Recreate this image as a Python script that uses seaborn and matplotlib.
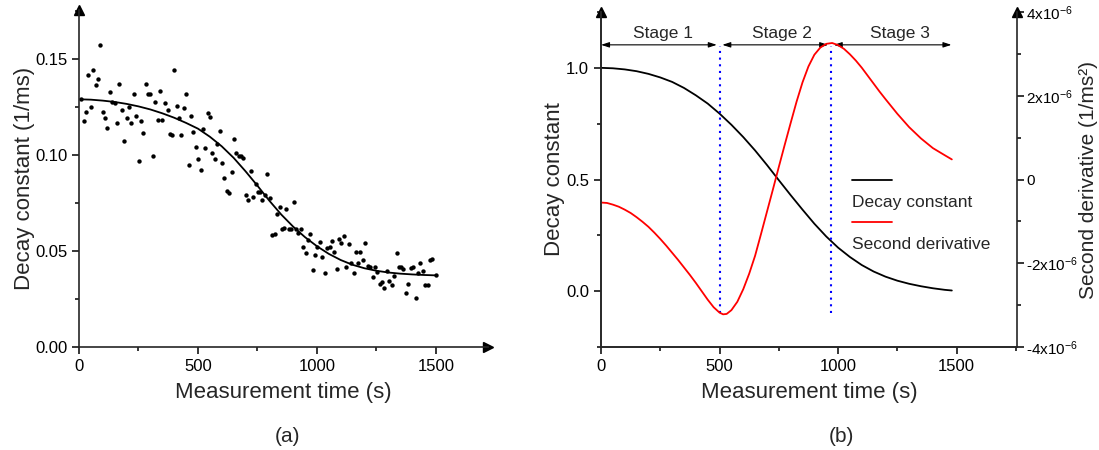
import numpy as np
import matplotlib
matplotlib.use("Agg")
import matplotlib.pyplot as plt
from matplotlib.ticker import MultipleLocator, FormatStrFormatter
from matplotlib.lines import Line2D
import seaborn as sns

# (a) measured decay constant, 1/ms
meas_time = [8, 20, 29, 39, 50, 60, 70, 80, 90, 100,
             111, 119, 130, 140, 150, 160, 170, 181, 191, 200,
             210, 220, 231, 241, 251, 261, 271, 280, 290, 300,
             310, 321, 331, 341, 350, 360, 372, 381, 391, 401,
             411, 421, 430, 442, 451, 461, 471, 481, 491, 502,
             512, 522, 531, 541, 551, 561, 572, 582, 592, 601,
             611, 621, 631, 641, 651, 660, 672, 681, 691, 701,
             711, 722, 732, 742, 751, 761, 771, 781, 792, 802,
             812, 822, 831, 843, 852, 862, 872, 882, 892, 903,
             913, 922, 932, 942, 953, 963, 973, 983, 993, 1002,
             1014, 1023, 1033, 1043, 1053, 1063, 1072, 1083, 1094, 1103,
             1113, 1123, 1133, 1144, 1154, 1164, 1173, 1183, 1193, 1204,
             1214, 1224, 1234, 1243, 1253, 1265, 1274, 1284, 1294, 1304,
             1314, 1323, 1335, 1344, 1354, 1364, 1374, 1384, 1395, 1405,
             1415, 1424, 1434, 1445, 1455, 1465, 1475, 1485, 1499]
meas_decay = [0.129, 0.1175, 0.1224, 0.1417, 0.125, 0.144, 0.1365, 0.1398, 0.1575, 0.1225,
              0.1194, 0.1142, 0.1328, 0.1278, 0.1269, 0.1168, 0.1368, 0.1234, 0.1074, 0.119,
              0.1248, 0.1166, 0.1316, 0.1205, 0.0966, 0.1178, 0.1116, 0.1371, 0.1318, 0.1316,
              0.0996, 0.1274, 0.118, 0.1333, 0.118, 0.1269, 0.1234, 0.1109, 0.1106, 0.1443,
              0.1255, 0.119, 0.1104, 0.1243, 0.1319, 0.0946, 0.1203, 0.1121, 0.1039, 0.0977,
              0.0923, 0.1133, 0.1036, 0.122, 0.12, 0.1008, 0.0979, 0.1055, 0.1123, 0.0956,
              0.0881, 0.081, 0.0803, 0.0913, 0.1085, 0.1012, 0.0996, 0.0993, 0.0986, 0.0791,
              0.0765, 0.0918, 0.078, 0.0848, 0.0805, 0.0805, 0.0768, 0.0794, 0.0899, 0.0777,
              0.0581, 0.0591, 0.069, 0.0727, 0.0615, 0.062, 0.0718, 0.0615, 0.0615, 0.0754,
              0.0612, 0.0596, 0.0615, 0.0521, 0.0487, 0.0558, 0.0589, 0.04, 0.048, 0.0521,
              0.0549, 0.0468, 0.0384, 0.0518, 0.0523, 0.0551, 0.0494, 0.0407, 0.056, 0.0539,
              0.0579, 0.0417, 0.0537, 0.0435, 0.0386, 0.0495, 0.0435, 0.0495, 0.0452, 0.0542,
              0.0422, 0.0414, 0.0367, 0.0417, 0.0389, 0.0329, 0.0339, 0.0309, 0.0396, 0.0342,
              0.0325, 0.037, 0.0492, 0.0417, 0.0417, 0.0407, 0.0283, 0.033, 0.0412, 0.0417,
              0.0257, 0.0386, 0.0435, 0.0395, 0.0322, 0.0322, 0.0455, 0.0459, 0.0377]

# (a) fitted curve
fit_time = [0, 50, 100, 150, 200, 250, 300, 350, 400, 450, 500, 550, 600, 650, 700, 750,
            800, 850, 900, 950, 1000, 1050, 1100, 1150, 1200, 1250, 1300, 1350, 1400, 1450, 1500]
fit_decay = [0.129, 0.1288, 0.1283, 0.1276, 0.1266, 0.1253, 0.1237, 0.1217, 0.1194, 0.1167,
             0.1137, 0.1095, 0.1045, 0.0985, 0.0915, 0.084, 0.0762, 0.069, 0.0627, 0.0572,
             0.0525, 0.0485, 0.0453, 0.0428, 0.041, 0.0397, 0.0388, 0.0382, 0.0378, 0.0375, 0.0373]

# (b) normalised decay constant
curve_time = [0, 50, 100, 150, 200, 250, 300, 350, 400, 450, 500, 550, 600, 650, 700, 750,
              800, 850, 900, 950, 1000, 1050, 1100, 1150, 1200, 1250, 1300, 1350, 1400, 1450, 1480]
norm_decay = [1.0, 0.998, 0.993, 0.985, 0.973, 0.957, 0.937, 0.91, 0.877, 0.84,
              0.795, 0.745, 0.69, 0.63, 0.565, 0.497, 0.43, 0.365, 0.302, 0.245,
              0.195, 0.153, 0.117, 0.088, 0.065, 0.047, 0.033, 0.022, 0.013, 0.006, 0.003]

# (b) second derivative, in units of 1e-6 1/ms^2
deriv_time = [0, 25, 50, 75, 100, 125, 150, 175, 200, 225, 250, 275, 300, 325, 350, 375,
              400, 425, 450, 475, 500, 515, 530, 550, 575, 600, 625, 650, 675, 700, 725,
              750, 775, 800, 825, 850, 875, 900, 925, 950, 975, 1000, 1025, 1050, 1075,
              1100, 1125, 1150, 1175, 1200, 1250, 1300, 1350, 1400, 1450, 1480]
deriv_e6 = [-0.55, -0.56, -0.6, -0.65, -0.72, -0.8, -0.9, -1.01, -1.13, -1.27, -1.42, -1.58,
            -1.75, -1.92, -2.1, -2.28, -2.47, -2.67, -2.87, -3.05, -3.18, -3.22, -3.21,
            -3.12, -2.92, -2.62, -2.25, -1.82, -1.3, -0.77, -0.24, 0.3, 0.83, 1.35, 1.86,
            2.32, 2.7, 2.98, 3.15, 3.24, 3.26, 3.21, 3.12, 2.99, 2.84, 2.67, 2.48, 2.29,
            2.1, 1.92, 1.57, 1.25, 0.98, 0.75, 0.58, 0.48]
deriv_value = np.array(deriv_e6) * 1e-6

stage_names = ["Stage 1", "Stage 2", "Stage 3"]
stage_edges = [0, 500, 970, 1490]
stage_label_x = [262, 765, 1263]
boundary_time = [503, 970]

right_ticks = [-4e-6, -2e-6, 0, 2e-6, 4e-6]
right_labels = ["-4x10$^{-6}$", "-2x10$^{-6}$", "0", "2x10$^{-6}$", "4x10$^{-6}$"]

sns.set_theme(style="ticks")
plt.rcParams["font.family"] = ["Liberation Sans", "DejaVu Sans"]
plt.rcParams["mathtext.fontset"] = "custom"
plt.rcParams["mathtext.rm"] = "Liberation Sans"
plt.rcParams["mathtext.it"] = "Liberation Sans:italic"
plt.rcParams["axes.linewidth"] = 1.2

fig = plt.figure(figsize=(10.99, 4.5), dpi=100)
ax1 = fig.add_axes([0.0719, 0.2289, 0.3723, 0.7489])
ax2 = fig.add_axes([0.5469, 0.2289, 0.3785, 0.7444])
ax3 = ax2.twinx()


def style_ticks(ax, size=12, pad=3.5):
    ax.tick_params(which="major", direction="out", length=5, width=1.1, labelsize=size,
                   pad=pad, color="black", labelcolor="black")
    ax.tick_params(which="minor", direction="out", length=3, width=1.1, color="black")


# ---- panel (a)
sns.scatterplot(x=meas_time, y=meas_decay, ax=ax1, color="black", s=10, linewidth=0)
sns.lineplot(x=fit_time, y=fit_decay, ax=ax1, color="black", lw=1.3)
ax1.set_xlim(0, 1720)
ax1.set_ylim(0, 0.1755)
ax1.set_xticks([0, 500, 1000, 1500])
ax1.set_yticks([0, 0.05, 0.10, 0.15])
ax1.xaxis.set_minor_locator(MultipleLocator(250))
ax1.yaxis.set_minor_locator(MultipleLocator(0.025))
ax1.yaxis.set_major_formatter(FormatStrFormatter("%.2f"))
style_ticks(ax1)
sns.despine(ax=ax1)
ax1.set_xlabel("Measurement time (s)", fontsize=16, labelpad=6)
ax1.set_ylabel("Decay constant (1/ms)", fontsize=16, labelpad=0)
ax1.plot(1, 0, ">", color="black", ms=7, transform=ax1.transAxes, clip_on=False)
ax1.plot(0, 1, "^", color="black", ms=7, transform=ax1.transAxes, clip_on=False)

# ---- panel (b)
sns.lineplot(x=curve_time, y=norm_decay, ax=ax2, color="black", lw=1.3)
sns.lineplot(x=deriv_time, y=deriv_value, ax=ax3, color="red", lw=1.3)
ax2.vlines(boundary_time, -0.1, 1.1, colors="blue", linestyles=(0, (1, 2.2)), lw=1.5)

for name, lx, x0, x1 in zip(stage_names, stage_label_x, stage_edges[:-1], stage_edges[1:]):
    ax2.annotate("", xy=(x1, 1.103), xytext=(x0, 1.103),
                 arrowprops=dict(arrowstyle="<|-|>,head_length=0.4,head_width=0.13",
                                 color="black", lw=0.8,
                                 shrinkA=0 if x0 == 0 else 2, shrinkB=2))
    ax2.text(lx, 1.152, name, ha="center", va="center", fontsize=12.5)

ax2.set_xlim(0, 1755)
ax2.set_ylim(-0.25, 1.25)
ax3.set_ylim(-4e-6, 4e-6)
ax2.set_xticks([0, 500, 1000, 1500])
ax2.set_yticks([0.0, 0.5, 1.0])
ax2.yaxis.set_major_formatter(FormatStrFormatter("%.1f"))
ax2.xaxis.set_minor_locator(MultipleLocator(250))
ax2.yaxis.set_minor_locator(MultipleLocator(0.25))
ax3.set_yticks(right_ticks, right_labels)
ax3.yaxis.set_minor_locator(MultipleLocator(1e-6))
style_ticks(ax2)
style_ticks(ax3, size=11, pad=1.5)
ax2.spines["top"].set_visible(False)
ax2.spines["right"].set_visible(False)
ax3.spines["top"].set_visible(False)
ax2.set_xlabel("Measurement time (s)", fontsize=16, labelpad=6)
ax2.set_ylabel("Decay constant", fontsize=16, labelpad=1)
ax3.set_ylabel("Second derivative (1/ms²)", fontsize=15, labelpad=1)
ax2.plot(0, 1, "^", color="black", ms=7, transform=ax2.transAxes, clip_on=False)
ax3.plot(1, 1, "^", color="black", ms=7, transform=ax3.transAxes, clip_on=False)

# legend drawn as in the original: line sample above each label
for ly, ty, col, txt in [(0.4985, 0.43, "black", "Decay constant"),
                         (0.373, 0.3045, "red", "Second derivative")]:
    ax2.add_line(Line2D([0.603, 0.70], [ly, ly], color=col, lw=1.3, transform=ax2.transAxes))
    ax2.text(0.603, ty, txt, transform=ax2.transAxes, ha="left", va="center", fontsize=12.5)

fig.text(288 / 1099, 1 - 437 / 450, "(a)", ha="center", va="center", fontsize=15)
fig.text(841 / 1099, 1 - 437 / 450, "(b)", ha="center", va="center", fontsize=15)

fig.savefig("out.png", dpi=100)
